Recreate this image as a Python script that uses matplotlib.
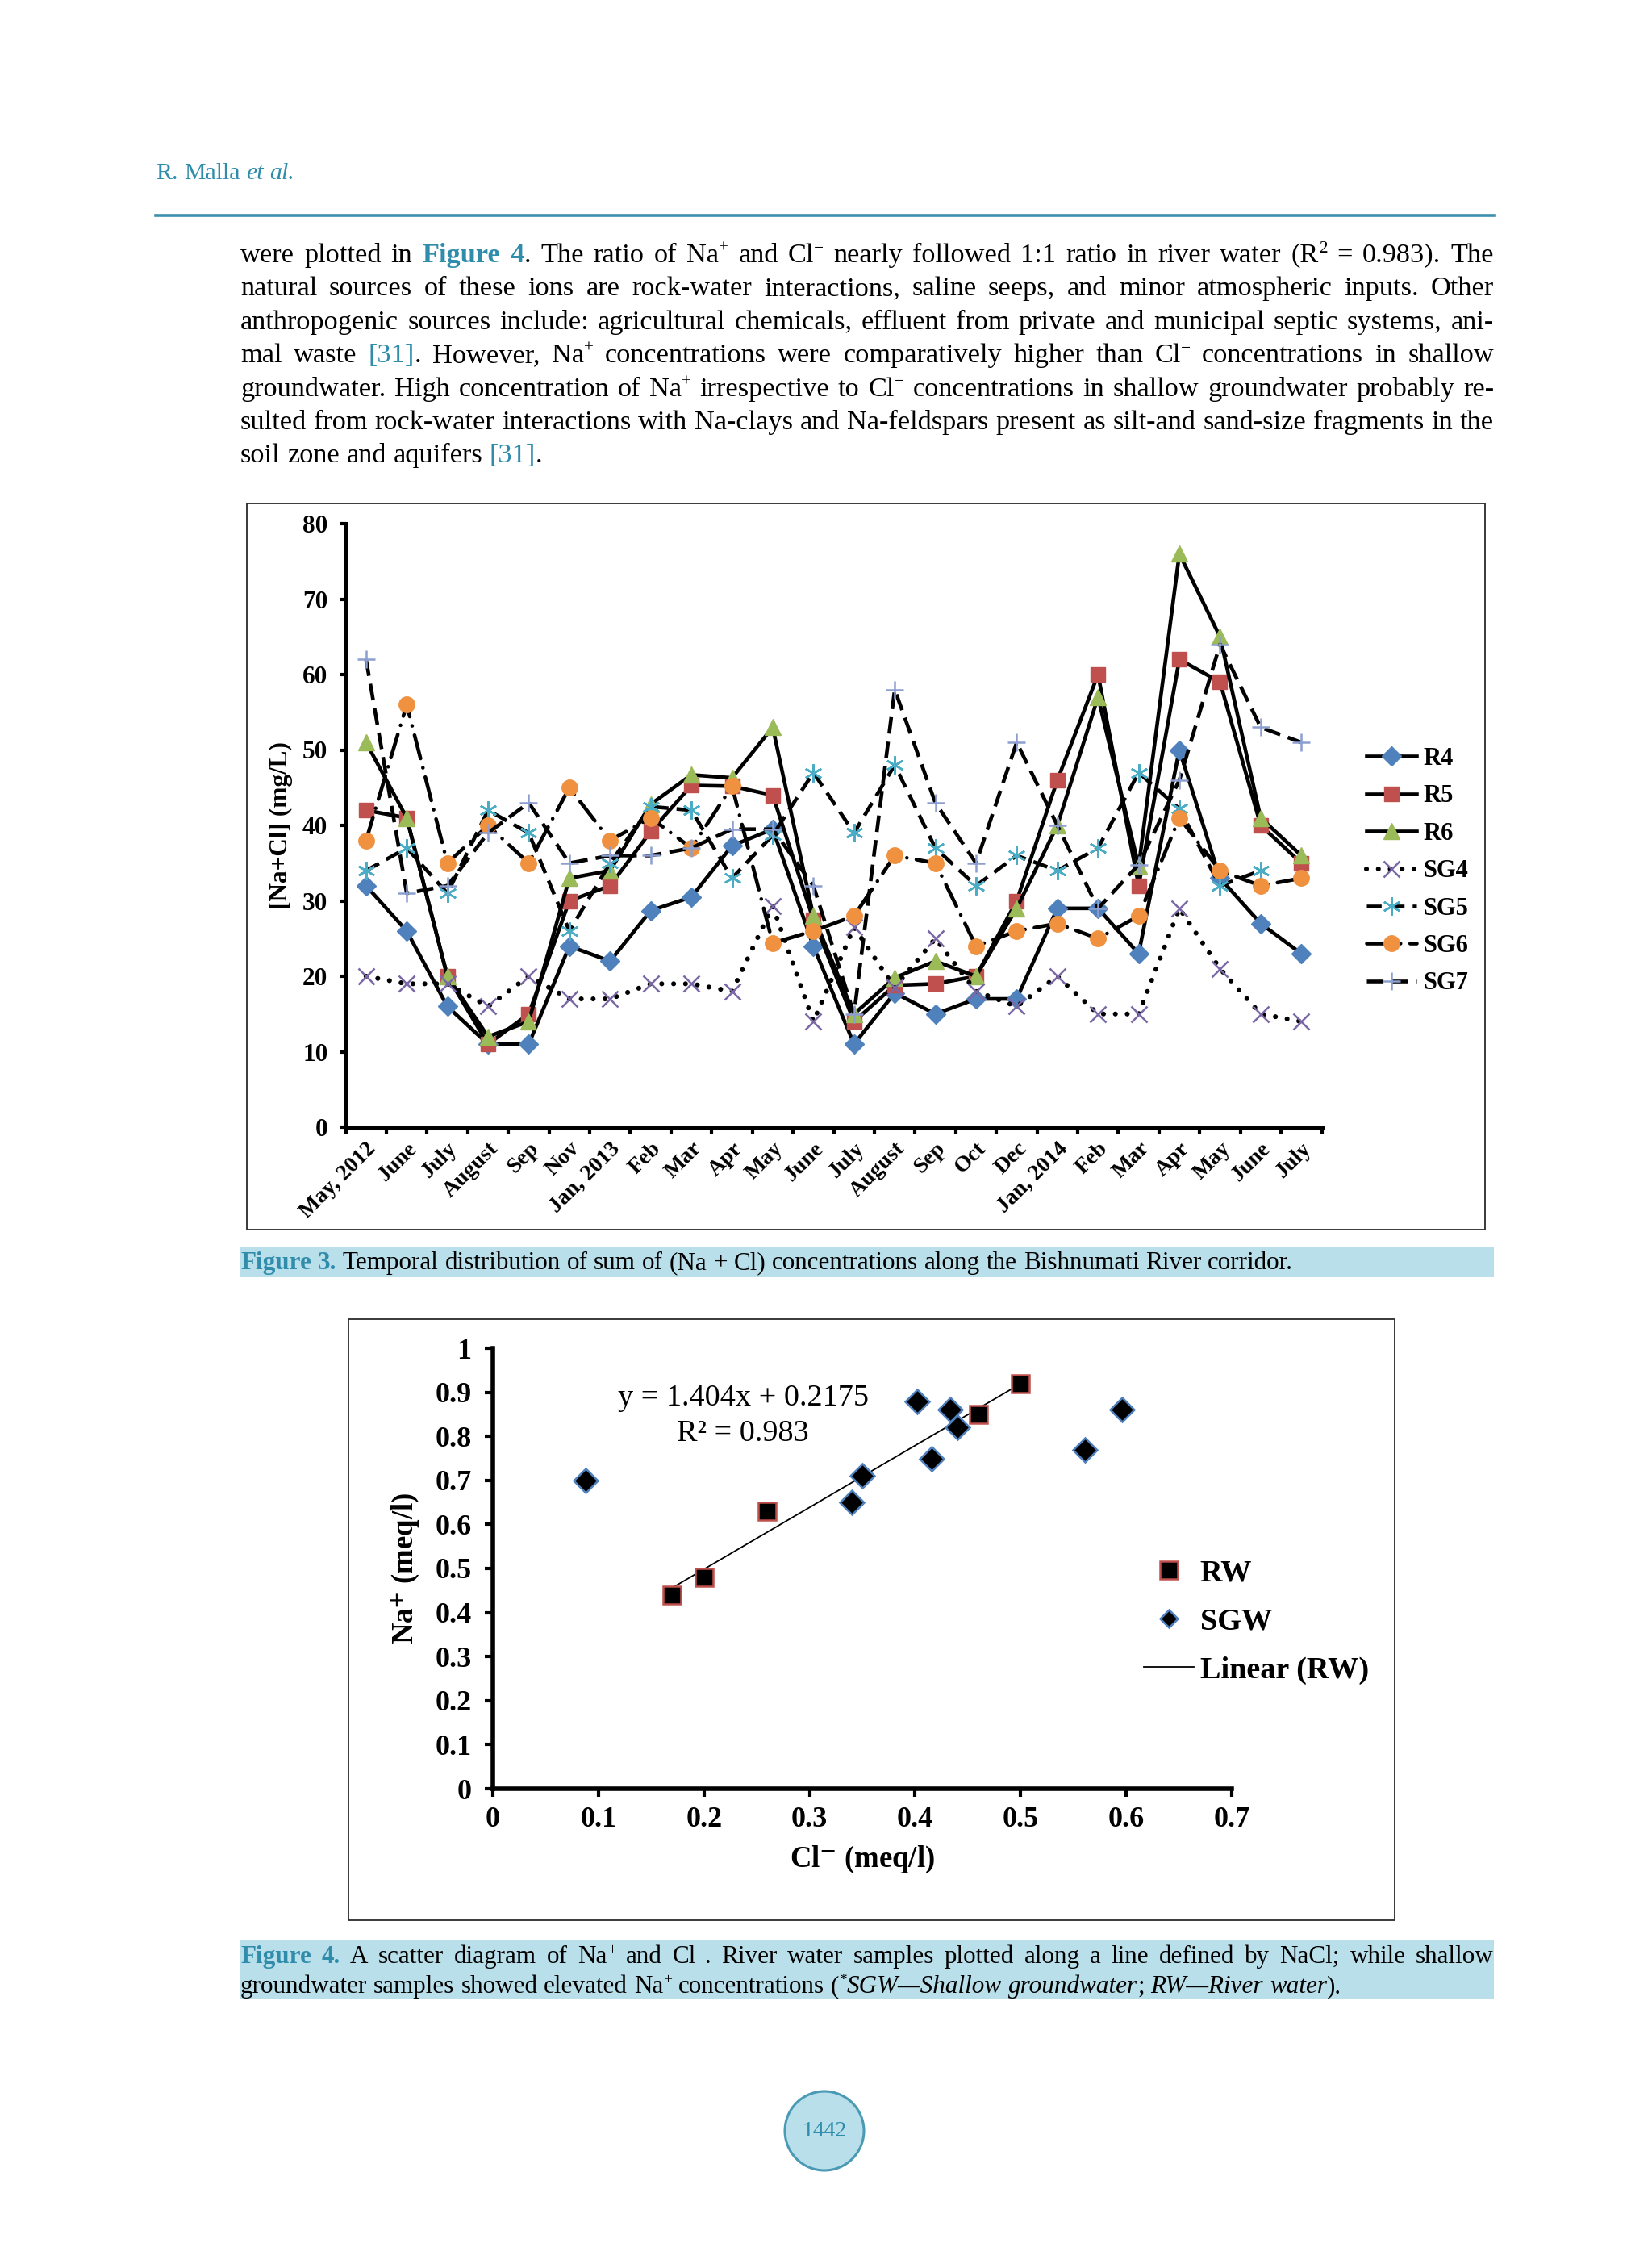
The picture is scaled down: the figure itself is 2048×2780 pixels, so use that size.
import re
import numpy as np
import matplotlib
matplotlib.use('Agg')
import matplotlib.pyplot as plt
from matplotlib.lines import Line2D
from matplotlib.patches import Rectangle, Ellipse
from matplotlib.ticker import FuncFormatter

plt.rcParams['font.family'] = ['Liberation Serif', 'DejaVu Serif']
plt.rcParams['mathtext.fontset'] = 'stix'

# ---------------- data ----------------
months = ['May, 2012', 'June', 'July', 'August', 'Sep', 'Nov', 'Jan, 2013', 'Feb', 'Mar', 'Apr',
          'May', 'June', 'July', 'August', 'Sep', 'Oct', 'Dec', 'Jan, 2014', 'Feb', 'Mar', 'Apr',
          'May', 'June', 'July']
R4 = [32, 26, 16, 11, 11, 24, 22, 28.7, 30.5, 37.3, 39.5, 24, 11, 17.8, 15, 17, 17, 29, 29, 23, 50, 33, 27, 23]
R5 = [42, 41, 20, 11, 15, 30, 32, 39.2, 45.3, 45.2, 44, 27.5, 14, 18.8, 19, 20, 30, 46, 60, 32, 62, 59, 40, 35]
R6 = [51, 41, 20, 12, 14, 33, 34, 42.8, 46.7, 46.3, 53, 28, 15, 19.8, 22, 20, 29, 40, 57, 34.6, 76, 65, 41, 36]
SG4 = [20, 19, 19, 16, 20, 17, 17, 19, 19, 18, 29.3, 14, 26.5, 18.5, 25, 18, 16, 20, 15, 15, 29, 21, 15, 14]
SG5 = [34, 37, 31, 42, 39, 26, 35, 42.5, 42, 33, 38.7, 47, 39, 48, 37, 32, 36, 34, 37, 47, 42.2, 32, 34, np.nan]
SG6 = [38, 56, 35, 40, 35, 45, 38, 41, 37, 45.2, 24.4, 26, 28, 36, 35, 24, 26, 27, 25, 28, 41, 34, 32, 33]
SG7 = [62, 31, 32, 39, 43, 35, 36, 36, 37, 39.5, 39.5, 32, 15, 58, 43, 35, 51, 40, 29, 34.8, 46, 64, 53, 51]
series_names = ['R4', 'R5', 'R6', 'SG4', 'SG5', 'SG6', 'SG7']

rw_cl = [0.17, 0.20, 0.26, 0.46, 0.50]
rw_na = [0.44, 0.48, 0.63, 0.85, 0.92]
sgw_cl = [0.088, 0.34, 0.35, 0.402, 0.416, 0.433, 0.44, 0.561, 0.596]
sgw_na = [0.70, 0.65, 0.71, 0.88, 0.75, 0.86, 0.82, 0.77, 0.86]
fit_slope, fit_intercept, fit_r2 = 1.404, 0.2175, 0.983

body_lines = [
    "were plotted in <b>Figure</b> <b>4</b>. The ratio of Na<s>+</s> and Cl<s>\u2212</s> nearly followed 1:1 ratio in river water (R<s>2</s> = 0.983). The",
    "natural sources of these ions are rock-water interactions, saline seeps, and minor atmospheric inputs. Other",
    "anthropogenic sources include: agricultural chemicals, effluent from private and municipal septic systems, ani-",
    "mal waste <l>[31]</l>. However, Na<s>+</s> concentrations were comparatively higher than Cl<s>\u2212</s> concentrations in shallow",
    "groundwater. High concentration of Na<s>+</s> irrespective to Cl<s>\u2212</s> concentrations in shallow groundwater probably re-",
    "sulted from rock-water interactions with Na-clays and Na-feldspars present as silt-and sand-size fragments in the",
    "soil zone and aquifers <l>[31]</l>.",
]
caption3 = "<b>Figure</b> <b>3.</b> Temporal distribution of sum of (Na + Cl) concentrations along the Bishnumati River corridor."
caption4 = [
    "<b>Figure</b> <b>4.</b> A scatter diagram of Na<s>+</s> and Cl<s>\u2212</s>. River water samples plotted along a line defined by NaCl; while shallow",
    "groundwater samples showed elevated Na<s>+</s> concentrations (<s>*</s><i>SGW\u2014Shallow</i> <i>groundwater</i>; <i>RW\u2014River</i> <i>water</i>).",
]
header = "<h>R.</h> <h>Malla</h> <hi>et</hi> <hi>al.</hi>"
page_no = "1442"

# ---------------- figure ----------------
W, H = 2048, 2780
DPI = 100
fig = plt.figure(figsize=(W / DPI, H / DPI), dpi=DPI)
fig.patch.set_facecolor('white')
R = fig.canvas.get_renderer()

TEAL = '#2f8cab'
CAPBG = '#b9dfea'
BLUE, RED, GREEN = '#4F81BD', '#C0504D', '#9BBB59'
PURPLE, AQUA, ORANGE, LBLUE = '#7a68a6', '#4BACC6', '#F0913F', '#8c9fd0'


def fx(x):
    return x / W


def fy(y):
    return 1 - y / H


SEG_RE = re.compile(r'<(hi|b|l|s|i|h)>(.*?)</\1>')


def parse_word(w):
    segs, pos = [], 0
    for m in SEG_RE.finditer(w):
        if m.start() > pos:
            segs.append((w[pos:m.start()], 'n'))
        segs.append((m.group(2), m.group(1)))
        pos = m.end()
    if pos < len(w):
        segs.append((w[pos:], 'n'))
    return segs


def seg_text(txt, kind, size):
    kw = dict(fontsize=size, color='black', fontweight='normal', fontstyle='normal')
    if kind == 'b':
        kw.update(color=TEAL, fontweight='bold')
    elif kind == 'l':
        kw.update(color=TEAL)
    elif kind == 's':
        kw.update(fontsize=size * 0.62)
    elif kind == 'i':
        kw.update(fontstyle='italic')
    elif kind == 'h':
        kw.update(color=TEAL)
    elif kind == 'hi':
        kw.update(color=TEAL, fontstyle='italic')
    return fig.text(0, 0, txt, ha='left', va='baseline', family='Liberation Serif', **kw)


def build(line, size):
    items = []
    for w in line.split(' '):
        objs, wx = [], 0.0
        for txt, kind in parse_word(w):
            t = seg_text(txt, kind, size)
            wid = t.get_window_extent(R).width
            objs.append((t, kind, wx))
            wx += wid
        items.append((objs, wx))
    return items


def natural_width(line, size):
    items = build(line, size)
    tot = sum(i[1] for i in items)
    for objs, _ in items:
        for t, _, _ in objs:
            t.remove()
    return tot, len(items)


def draw_line(line, x0, x1, yb, size, justify):
    items = build(line, size)
    total = sum(i[1] for i in items)
    space = 0.25 * size * DPI / 72
    if justify and len(items) > 1:
        gap = (x1 - x0 - total) / (len(items) - 1)
    else:
        gap = space
    x = x0
    for objs, wx in items:
        for t, kind, off in objs:
            dy = 0.36 * size * DPI / 72 if kind == 's' else 0
            t.set_position((fx(x + off), fy(yb - dy)))
        x += wx + gap


def fit_size(lines, width, start):
    size = start
    while size > 10:
        ok = True
        for ln in lines:
            tot, n = natural_width(ln, size)
            if tot + (n - 1) * 0.25 * size * DPI / 72 > width:
                ok = False
                break
        if ok:
            return size
        size -= 0.25
    return size


# ---------------- page text ----------------
X0, X1 = 298, 1852
draw_line(header, 193, 1852, 222, 21.5, False)
fig.add_artist(Line2D([fx(193), fx(1852)], [fy(267), fy(267)], transform=fig.transFigure,
                      color='#3d8fab', lw=2.6))

body_size = fit_size(body_lines[:-1], X1 - X0, 25.5)
for i, ln in enumerate(body_lines):
    draw_line(ln, X0, X1, 325 + 41.4 * i, body_size, i < len(body_lines) - 1)

# captions
fig.add_artist(Rectangle((fx(298), fy(1583)), (1852 - 298) / W, (1583 - 1545) / H,
                         transform=fig.transFigure, facecolor=CAPBG, edgecolor='none', zorder=0))
fig.add_artist(Rectangle((fx(298), fy(2478)), (1852 - 298) / W, (2478 - 2405) / H,
                         transform=fig.transFigure, facecolor=CAPBG, edgecolor='none', zorder=0))
cap_size = body_size * 0.907
draw_line(caption3, X0, X1, 1573, cap_size, False)
draw_line(caption4[0], X0, X1, 2433, cap_size, True)
draw_line(caption4[1], X0, X1, 2470, cap_size, False)

# page number
fig.add_artist(Ellipse((fx(1022), fy(2641)), 2 * 49 / W, 2 * 49 / H, transform=fig.transFigure,
                       facecolor=CAPBG, edgecolor='#4a9ab5', lw=2.2))
fig.text(fx(1022), fy(2641), page_no, ha='center', va='center', fontsize=20, color=TEAL,
         family='Liberation Serif')

# chart frames
fig.add_artist(Rectangle((fx(306), fy(1524)), (1841 - 306) / W, (1524 - 624) / H,
                         transform=fig.transFigure, fill=False, edgecolor='#2a2a2a', lw=1.3))
fig.add_artist(Rectangle((fx(432), fy(2380)), (1729 - 432) / W, (2380 - 1635) / H,
                         transform=fig.transFigure, fill=False, edgecolor='#2a2a2a', lw=1.3))

# ---------------- Figure 3 ----------------
ax1 = fig.add_axes([fx(428.6), fy(1397), (1638.5 - 428.6) / W, (1397 - 649) / H])
xi = np.arange(len(months))
LW = 3.3
styles = [
    dict(color='black', lw=LW, ls='-', marker='D', ms=12, mfc=BLUE, mec=BLUE),
    dict(color='black', lw=LW, ls='-', marker='s', ms=13.5, mfc=RED, mec=RED),
    dict(color='black', lw=LW, ls='-', marker='^', ms=15, mfc=GREEN, mec=GREEN),
    dict(color='black', lw=4.4, ls=(0, (0.01, 2.4)), dash_capstyle='round', marker='x', ms=15,
         mec=PURPLE, mew=1.8),
    dict(color='black', lw=LW, ls=(0, (4.0, 2.2)), marker=(6, 2, 0), ms=16, mec=AQUA, mew=1.8),
    dict(color='black', lw=LW, ls=(0, (6.5, 2.6, 0.01, 2.6)), dash_capstyle='round', marker='o',
         ms=14, mfc=ORANGE, mec=ORANGE),
    dict(color='black', lw=LW, ls=(0, (4.5, 2.2)), marker='+', ms=16, mec=LBLUE, mew=1.8),
]
all_series = [R4, R5, R6, SG4, SG5, SG6, SG7]
handles = []
for name, vals, st in zip(series_names, all_series, styles):
    h, = ax1.plot(xi, vals, label=name, clip_on=False, **st)
    handles.append(h)

ax1.set_xlim(-0.5, len(months) - 0.5)
ax1.set_ylim(0, 80)
ax1.set_yticks(np.arange(0, 81, 10))
ax1.set_xticks(np.arange(-0.5, len(months), 1))
ax1.set_xticklabels([])
ax1.set_xticks(xi, minor=True)
ax1.set_xticklabels(months, minor=True, rotation=45, ha='right', va='top', rotation_mode='anchor',
                    fontsize=20, fontweight='bold')
ax1.tick_params(axis='x', which='minor', length=0, pad=10)
ax1.tick_params(axis='both', which='major', direction='out', length=6, width=3, labelsize=22.5,
                pad=10)
for lbl in ax1.get_yticklabels():
    lbl.set_fontweight('bold')
for s in ['top', 'right']:
    ax1.spines[s].set_visible(False)
for s in ['left', 'bottom']:
    ax1.spines[s].set_linewidth(3.6)
    ax1.spines[s].set_capstyle('projecting')
ax1.set_ylabel('[Na+Cl] (mg/L)', fontsize=22.5, fontweight='bold')
ax1.yaxis.set_label_coords((348 - 428.6) / (1638.5 - 428.6), 0.5)
ax1.yaxis.label.set_va('center')
ax1.patch.set_alpha(0)

leg1 = ax1.legend(handles=handles, loc='upper left', bbox_to_anchor=(fx(1694), fy(926)),
                  bbox_transform=fig.transFigure, frameon=False, borderpad=0, borderaxespad=0,
                  prop={'family': 'Liberation Serif', 'weight': 'bold', 'size': 22},
                  handlelength=2.03, handletextpad=0.26, labelspacing=0.57, numpoints=1)

# ---------------- Figure 4 ----------------
ax2 = fig.add_axes([fx(611), fy(2217), (1527 - 611) / W, (2217 - 1671) / H])
fit_x = np.array([min(rw_cl), max(rw_cl)])
ax2.plot(fit_x, fit_slope * fit_x + fit_intercept, color='black', lw=1.3, zorder=2)
ax2.plot(rw_cl, rw_na, ls='none', marker='s', ms=15.5, mfc='black', mec=RED, mew=1.8, zorder=3,
         clip_on=False)
ax2.plot(sgw_cl, sgw_na, ls='none', marker='D', ms=15.5, mfc='black', mec=BLUE, mew=1.8, zorder=3,
         clip_on=False)
ax2.set_xlim(0, 0.7)
ax2.set_ylim(0, 1)
ax2.set_xticks(np.arange(0, 0.71, 0.1))
ax2.set_yticks(np.arange(0, 1.01, 0.1))
fmt = FuncFormatter(lambda v, _: f'{round(v, 1):g}')
ax2.xaxis.set_major_formatter(fmt)
ax2.yaxis.set_major_formatter(fmt)
ax2.tick_params(axis='both', direction='out', length=7, width=3, labelsize=26)
ax2.tick_params(axis='y', pad=12)
ax2.tick_params(axis='x', pad=9)
for lbl in ax2.get_xticklabels() + ax2.get_yticklabels():
    lbl.set_fontweight('bold')
for s in ['top', 'right']:
    ax2.spines[s].set_visible(False)
for s in ['left', 'bottom']:
    ax2.spines[s].set_linewidth(4)
    ax2.spines[s].set_capstyle('projecting')
ax2.set_ylabel(r'Na$^{\mathbf{+}}$ (meq/l)', fontsize=26.5, fontweight='bold')
ax2.yaxis.set_label_coords((502 - 611) / (1527 - 611), 0.5)
ax2.yaxis.label.set_va('center')
ax2.set_xlabel(r'Cl$^{\mathbf{-}}$ (meq/l)', fontsize=26.5, fontweight='bold')
ax2.xaxis.set_label_coords(0.5, (2217 - 2305) / (2217 - 1671))
ax2.xaxis.label.set_va('center')
ax2.patch.set_alpha(0)

ax2.text(0.237, 0.886, f'y = {fit_slope}x + {fit_intercept}', transform=ax2.transData,
         ha='center', va='center', fontsize=27.5, family='Liberation Serif')
ax2.text(0.237, 0.806, f'R\u00b2 = {fit_r2}', transform=ax2.transData, ha='center', va='center',
         fontsize=27.5, family='Liberation Serif')

h_rw = Line2D([], [], ls='none', marker='s', ms=15.5, mfc='black', mec=RED, mew=1.8)
h_sgw = Line2D([], [], ls='none', marker='D', ms=11.5, mfc='black', mec=BLUE, mew=1.8)
h_lin = Line2D([], [], color='black', lw=1.3)
ax2.legend([h_rw, h_sgw, h_lin], ['RW', 'SGW', 'Linear (RW)'], loc='upper left',
           bbox_to_anchor=(fx(1418), fy(1932)), bbox_transform=fig.transFigure, frameon=False,
           borderpad=0, borderaxespad=0,
           prop={'family': 'Liberation Serif', 'weight': 'bold', 'size': 27.5},
           handlelength=1.62, handletextpad=0.2, labelspacing=0.66, numpoints=1)

fig.savefig('out.png', dpi=DPI)
